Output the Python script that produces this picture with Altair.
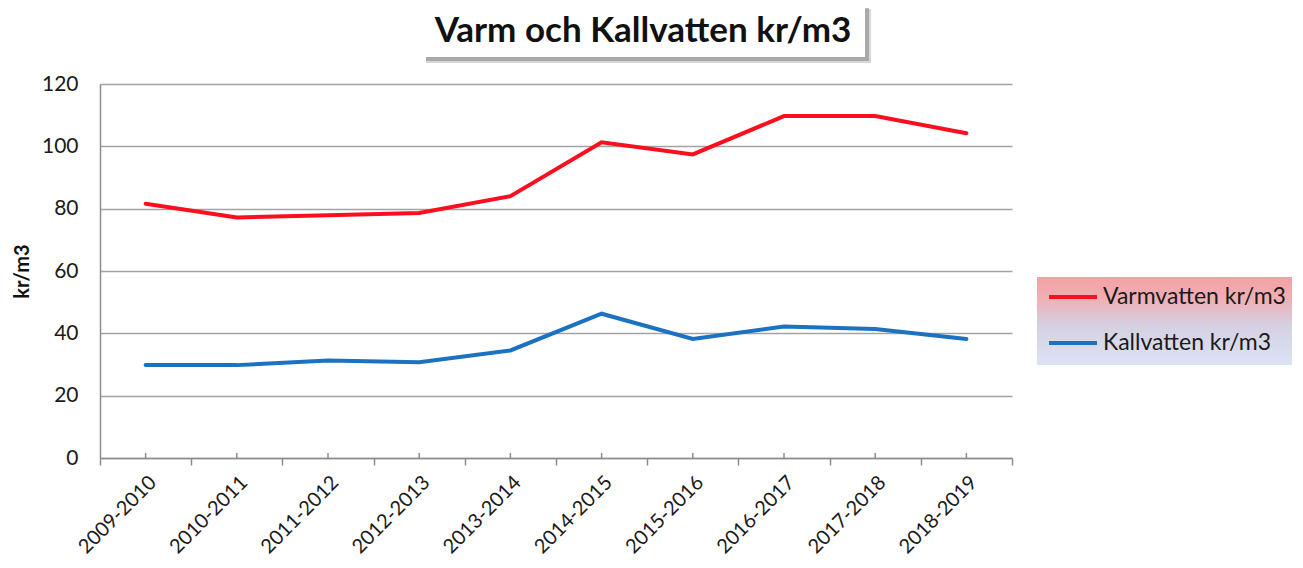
import altair as alt
import pandas as pd

years = ["2009-2010", "2010-2011", "2011-2012", "2012-2013", "2013-2014",
         "2014-2015", "2015-2016", "2016-2017", "2017-2018", "2018-2019"]
varm = [81.6, 77.2, 77.9, 78.6, 84.0, 101.3, 97.4, 109.7, 109.7, 104.2]
kall = [29.8, 29.8, 31.3, 30.7, 34.5, 46.3, 38.2, 42.2, 41.4, 38.2]
series = ["Varmvatten kr/m3", "Kallvatten kr/m3"]
colors = ["#fb0f1e", "#1b72c0"]
y_ticks = [0, 20, 40, 60, 80, 100, 120]
title_text = "Varm och Kallvatten kr/m3"
y_title = "kr/m3"

rows = []
for s, vals in zip(series, [varm, kall]):
    for yr, v in zip(years, vals):
        rows.append({"year": yr, "series": s, "value": v})
df = pd.DataFrame(rows)

FONT = "Lato"

x_enc = alt.X("year:N", sort=years,
              scale=alt.Scale(type="band", paddingInner=0, paddingOuter=0),
              axis=alt.Axis(title=None, labelAngle=-45, labelFont=FONT, labelFontSize=20,
                            labelColor="#1a1a1a", labelPadding=7, tickBand="extent",
                            tickSize=7, tickColor="#8c8c8c", tickWidth=1.5,
                            domainColor="#8c8c8c", domainWidth=1.5, grid=False))

one = pd.DataFrame({"a": [0]})

# legend background with gradient
legend_bg = alt.Chart(one).mark_rect(
    color=alt.Gradient(
        gradient="linear",
        stops=[alt.GradientStop(color="#f5a0a3", offset=0),
               alt.GradientStop(color="#efb0b6", offset=0.25),
               alt.GradientStop(color="#d5d0e2", offset=0.55),
               alt.GradientStop(color="#dbe4f4", offset=1)],
        x1=0, x2=0, y1=0, y2=1),
).encode(x=alt.value(937), x2=alt.value(1200), y=alt.value(193), y2=alt.value(281))

# title box with soft shadow
title_shadow2 = alt.Chart(one).mark_rect(
    color="#b0b0b0", opacity=0.5
).encode(x=alt.value(326), x2=alt.value(771), y=alt.value(-75), y2=alt.value(-21))
title_shadow = alt.Chart(one).mark_rect(
    color="#8a8a8a", opacity=0.6
).encode(x=alt.value(326), x2=alt.value(769), y=alt.value(-76), y2=alt.value(-23))
title_box = alt.Chart(one).mark_rect(
    color="white"
).encode(x=alt.value(323), x2=alt.value(765), y=alt.value(-79), y2=alt.value(-27))
title_mark = alt.Chart(pd.DataFrame({"t": [title_text]})).mark_text(
    font=FONT, fontWeight="bold", fontSize=35, color="#111111",
    align="center", baseline="alphabetic"
).encode(text="t:N", x=alt.value(543), y=alt.value(-42))

# small category ticks above the x axis (Excel style)
cat_ticks = alt.Chart(pd.DataFrame({"year": years})).mark_rule(
    color="#8c8c8c", strokeWidth=1.5
).encode(x=x_enc, y=alt.value(374), y2=alt.value(369))

lines = alt.Chart(df).mark_line(strokeWidth=4, strokeCap="round").encode(
    x=x_enc,
    y=alt.Y("value:Q", scale=alt.Scale(domain=[0, 120], nice=False),
            axis=alt.Axis(title=y_title, values=y_ticks, titleFont=FONT, titleFontSize=20,
                          titleFontWeight="bold", titleColor="#111111", titlePadding=9,
                          labelFont=FONT, labelFontSize=21, labelColor="#1a1a1a",
                          labelPadding=22, tickSize=0, grid=True, gridColor="#a3a3a3",
                          gridWidth=1.5, domainColor="#8c8c8c", domainWidth=1.5)),
    color=alt.Color("series:N", sort=series,
                    scale=alt.Scale(domain=series, range=colors),
                    legend=alt.Legend(title=None, orient="none", legendX=947, legendY=187,
                                      symbolType="stroke", symbolStrokeWidth=4,
                                      symbolSize=2300, labelFont=FONT, labelFontSize=23,
                                      labelLimit=400,
                                      labelColor="#1a1a1a", rowPadding=8, labelOffset=4,
                                      padding=0)),
)

chart = alt.layer(legend_bg, title_shadow2, title_shadow, title_box, title_mark,
                  cat_ticks, lines).properties(
    width=912, height=374,
    autosize=alt.AutoSizeParams(type="none"),
    padding={"left": 92, "top": 76, "right": 280, "bottom": 100},
).configure_view(stroke=None)

chart.save("out.html", embed_options={"renderer": "svg", "actions": False})
